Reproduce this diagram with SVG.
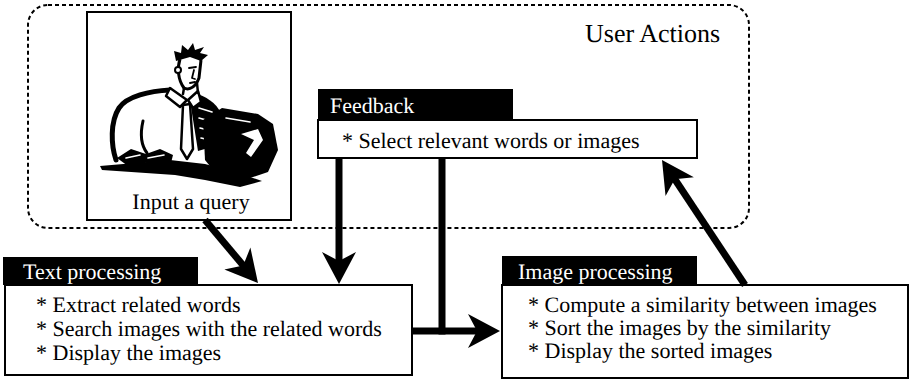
<svg xmlns="http://www.w3.org/2000/svg" width="910" height="379" viewBox="0 0 910 379" text-rendering="geometricPrecision">
  <rect width="910" height="379" fill="#fff"/>

  <!-- user actions area -->
  <g id="user-actions">
    <rect x="28" y="5" width="721" height="223" rx="20" fill="none" stroke="#000" stroke-width="2" stroke-dasharray="4 3"/>
    <text x="585" y="42" font-family="Times New Roman, Liberation Serif, serif" font-size="26">User Actions</text>
  </g>

  <!-- query input with clip-art user -->
  <g id="input-query">
    <rect x="87" y="12" width="204" height="208" fill="#fff" stroke="#000" stroke-width="2"/>
    <g fill="none" stroke="#000" stroke-linecap="round" stroke-linejoin="round">
      <!-- body outline -->
      <path d="M170,90 C150,91 127,96 119,108 C110,122 111,145 116,160" stroke-width="5"/>
      <path d="M143,121 C140,134 141,145 147,153" stroke-width="3"/>
    </g>
    <!-- right shoulder, dark with stripes -->
    <path d="M194,93 C206,96 216,103 221,113 L215,146 L198,151 L191,107 Z" fill="#000"/>
    <path d="M199,108 L212,112 M199,118 L213,122 M200,128 L212,131 M201,138 L210,140" fill="none" stroke="#fff" stroke-width="1.6" stroke-linecap="round"/>
    <!-- collar and tie -->
    <g fill="#fff" stroke="#000" stroke-width="2.5" stroke-linejoin="round">
      <path d="M170,88 L187,100 L180,107 L166,96 Z"/>
      <path d="M188,100 L198,91 L201,102 L193,108 Z"/>
      <path d="M183,105 L190,104 L193,149 L187,159 L181,149 Z"/>
    </g>
    <!-- head -->
    <path d="M180,59 C177,68 178,80 184,88 C190,91 196,86 199,78 L201,60" fill="#fff" stroke="#000" stroke-width="3"/>
    <path d="M184,88 L183,94 M197,83 L198,93" fill="none" stroke="#000" stroke-width="2.5" stroke-linecap="round"/>
    <circle cx="178" cy="70" r="3" fill="#fff" stroke="#000" stroke-width="2"/>
    <path d="M189,68 L196,67 M194,70 L192,78 L195,79 M190,83 L195,82" fill="none" stroke="#000" stroke-width="1.8" stroke-linecap="round" stroke-linejoin="round"/>
    <path d="M176,61 L174,51 L181,53 L182,45 L188,50 L193,43 L195,50 L204,47 L200,53 L208,55 L201,61 L190,57 Z" fill="#000"/>
    <!-- hands -->
    <path d="M117,158 L131,149 L146,154 L160,149 L173,155 L171,163 L150,162 L128,166 Z" fill="#000"/>
    <path d="M126,158 L140,155 M148,158 L164,155" fill="none" stroke="#fff" stroke-width="1.6" stroke-linecap="round"/>
    <!-- monitor -->
    <path d="M203,120 L222,108 L258,114 L273,124 L278,150 L268,172 L244,180 L218,176 L205,160 Z" fill="#000"/>
    <path d="M241,134 L258,129 L263,140 L251,157 L246,153 L254,140 Z" fill="#fff"/>
    <path d="M226,118 L250,122" fill="none" stroke="#fff" stroke-width="1.6" stroke-linecap="round"/>
    <!-- desk -->
    <path d="M100,166 L170,160 L205,164 L232,171 L262,181 L240,187 L205,180 L175,175 L102,170 Z" fill="#000"/>
    <text x="191" y="209" text-anchor="middle" font-family="Times New Roman, Liberation Serif, serif" font-size="22">Input a query</text>
  </g>

  <!-- feedback -->
  <g id="feedback">
    <rect x="318" y="89" width="195" height="31" fill="#000"/>
    <text x="330" y="113" fill="#fff" font-family="Times New Roman, Liberation Serif, serif" font-size="22">Feedback</text>
    <rect x="318" y="120" width="379" height="38" fill="#fff" stroke="#000" stroke-width="2"/>
    <text x="342" y="148" font-family="Times New Roman, Liberation Serif, serif" font-size="22">* Select relevant words or images</text>
  </g>

  <!-- text processing -->
  <g id="text-processing">
    <rect x="3" y="257" width="195" height="28" fill="#000"/>
    <text x="23" y="279" fill="#fff" font-family="Times New Roman, Liberation Serif, serif" font-size="22">Text processing</text>
    <rect x="5" y="285" width="407" height="90" fill="#fff" stroke="#000" stroke-width="2"/>
    <text x="36" y="312" font-family="Times New Roman, Liberation Serif, serif" font-size="22">* Extract related words</text>
    <text x="36" y="336" font-family="Times New Roman, Liberation Serif, serif" font-size="22">* Search images with the related words</text>
    <text x="36" y="360" font-family="Times New Roman, Liberation Serif, serif" font-size="22">* Display the images</text>
  </g>

  <!-- image processing -->
  <g id="image-processing">
    <rect x="502" y="256" width="195" height="29" fill="#000"/>
    <text x="518" y="279" fill="#fff" font-family="Times New Roman, Liberation Serif, serif" font-size="22">Image processing</text>
    <rect x="502" y="285" width="406" height="93" fill="#fff" stroke="#000" stroke-width="2"/>
    <text x="528" y="312" font-family="Times New Roman, Liberation Serif, serif" font-size="22">* Compute a similarity between images</text>
    <text x="528" y="335" font-family="Times New Roman, Liberation Serif, serif" font-size="22">* Sort the images by the similarity</text>
    <text x="528" y="358" font-family="Times New Roman, Liberation Serif, serif" font-size="22">* Display the sorted images</text>
  </g>

  <!-- connectors: shafts plus arrowhead polygons -->
  <g id="connectors">
    <g fill="none" stroke="#000" stroke-width="7">
      <line x1="205" y1="220" x2="246.4" y2="269.2"/>
      <line x1="339" y1="158" x2="339" y2="266"/>
      <line x1="442" y1="158" x2="442" y2="334.5"/>
      <line x1="412" y1="331" x2="482" y2="331"/>
      <line x1="745" y1="285" x2="672" y2="175"/>
    </g>
    <g fill="#000">
      <path d="M32,0 L0,-17 L9,0 L0,17 Z" transform="translate(258,283) rotate(49.9) translate(-32,0)"/>
      <path d="M32,0 L0,-17 L9,0 L0,17 Z" transform="translate(339,284) rotate(90) translate(-32,0)"/>
      <path d="M32,0 L0,-17 L9,0 L0,17 Z" transform="translate(500,331) translate(-32,0)"/>
      <path d="M32,0 L0,-17 L9,0 L0,17 Z" transform="translate(662,160) rotate(236.4) translate(-32,0)"/>
    </g>
  </g>
</svg>
